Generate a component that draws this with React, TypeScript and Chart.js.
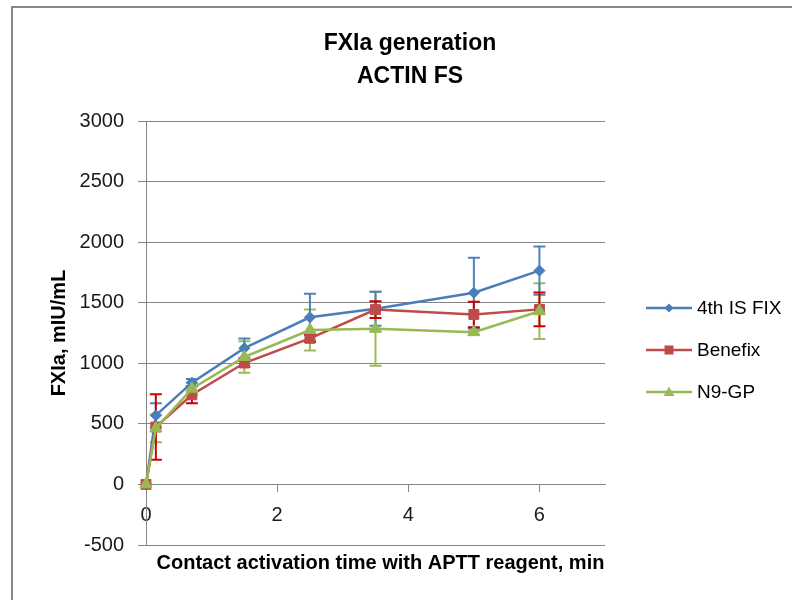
import React, { useEffect, useRef } from 'react';
import { Chart, registerables } from 'chart.js';

Chart.register(...registerables);

// ---- data ----
const timeMin = [0, 0.15, 0.7, 1.5, 2.5, 3.5, 5, 6];
const seriesNames = ['4th IS FIX', 'Benefix', 'N9-GP'];
const fixValues = [0, 570, 840, 1125, 1380, 1450, 1582, 1765];
const fixErr = [0, 100, 30, 80, 195, 140, 290, 200];
const benefixValues = [0, 474, 740, 1002, 1206, 1443, 1403, 1445];
const benefixErr = [0, 270, 70, 30, 30, 70, 105, 140];
const n9gpValues = [0, 463, 790, 1052, 1275, 1285, 1257, 1430];
const n9gpErr = [0, 115, 50, 130, 170, 305, 20, 230];
const xTickValues = [0, 2, 4, 6];
const yTickValues = [-500, 0, 500, 1000, 1500, 2000, 2500, 3000];
const titleLines = ['FXIa generation', 'ACTIN FS'];
const xTitle = 'Contact activation time with APTT reagent, min';
const yTitle = 'FXIa, mIU/mL';

const FONT = "'Liberation Sans', 'DejaVu Sans', sans-serif";
const lineColors = ['#4A7EBB', '#BE4B48', '#98B954'];
const errColors = ['#4F81BD', '#CC0000', '#9BBB59'];
const pointStyles = ['rectRot', 'rect', 'triangle'];
const pointRadii = [5.5, 7, 7];
const values = [fixValues, benefixValues, n9gpValues];
const errors = [fixErr, benefixErr, n9gpErr];

export default function App() {
  const ref = useRef<HTMLCanvasElement | null>(null);

  useEffect(() => {
    const canvas = ref.current;
    if (!canvas) return;

    const framePlugin = {
      id: 'frame',
      beforeDraw(chart: any) {
        const ctx = chart.ctx;
        ctx.save();
        ctx.fillStyle = '#ffffff';
        ctx.fillRect(0, 0, chart.width, chart.height);
        ctx.strokeStyle = '#888888';
        ctx.lineWidth = 2;
        ctx.beginPath();
        ctx.moveTo(12, chart.height);
        ctx.lineTo(12, 7);
        ctx.lineTo(chart.width, 7);
        ctx.stroke();
        ctx.restore();
      },
    };

    const errorBarPlugin = {
      id: 'errorBars',
      beforeDatasetsDraw(chart: any) {
        const ctx = chart.ctx;
        const xs = chart.scales.x;
        const ys = chart.scales.y;
        const drawOrder = [2, 0, 1];
        ctx.save();
        for (const s of drawOrder) {
          ctx.strokeStyle = errColors[s];
          ctx.lineWidth = 2;
          values[s].forEach((v, i) => {
            const e = errors[s][i];
            if (!e) return;
            const px = xs.getPixelForValue(timeMin[i]);
            const pTop = ys.getPixelForValue(v + e);
            const pBot = ys.getPixelForValue(v - e);
            ctx.beginPath();
            ctx.moveTo(px, pTop);
            ctx.lineTo(px, pBot);
            ctx.moveTo(px - 6, pTop);
            ctx.lineTo(px + 6, pTop);
            ctx.moveTo(px - 6, pBot);
            ctx.lineTo(px + 6, pBot);
            ctx.stroke();
          });
        }
        ctx.restore();
      },
    };

    const textPlugin = {
      id: 'texts',
      afterDraw(chart: any) {
        const ctx = chart.ctx;
        const area = chart.chartArea;
        ctx.save();
        ctx.fillStyle = '#000000';
        ctx.textAlign = 'center';
        ctx.textBaseline = 'middle';
        ctx.font = `bold 23px ${FONT}`;
        ctx.fillText(titleLines[0], 410, 44);
        ctx.fillText(titleLines[1], 410, 77);
        ctx.font = `bold 20px ${FONT}`;
        ctx.fillText(xTitle, (area.left + area.right) / 2 + 5, 563);

        // legend
        const legendY = [308, 350, 392];
        seriesNames.forEach((name, s) => {
          const y = legendY[s];
          ctx.strokeStyle = lineColors[s];
          ctx.lineWidth = 2.5;
          ctx.beginPath();
          ctx.moveTo(646, y);
          ctx.lineTo(692, y);
          ctx.stroke();
          ctx.fillStyle = lineColors[s];
          const r = s === 0 ? 4.5 : 6;
          ctx.beginPath();
          if (s === 0) {
            ctx.moveTo(669, y - r);
            ctx.lineTo(669 + r, y);
            ctx.lineTo(669, y + r);
            ctx.lineTo(669 - r, y);
          } else if (s === 1) {
            ctx.rect(669 - 4.5, y - 4.5, 9, 9);
          } else {
            ctx.moveTo(669, y - 5.5);
            ctx.lineTo(669 + 5.5, y + 4);
            ctx.lineTo(669 - 5.5, y + 4);
          }
          ctx.closePath();
          ctx.fill();
          ctx.fillStyle = '#000000';
          ctx.textAlign = 'left';
          ctx.font = `19px ${FONT}`;
          ctx.fillText(name, 697, y + 1);
        });
        ctx.restore();
      },
    };

    const datasets = seriesNames.map((name, s) => ({
      label: name,
      data: timeMin.map((t, i) => ({ x: t, y: values[s][i] })),
      borderColor: lineColors[s],
      backgroundColor: lineColors[s],
      pointBackgroundColor: lineColors[s],
      pointBorderColor: lineColors[s],
      pointStyle: pointStyles[s],
      pointRadius: pointRadii[s],
      pointBorderWidth: 1,
      borderWidth: 2.5,
      tension: 0,
      fill: false,
      clip: false as any,
      order: 2 - s,
    }));

    const chart = new Chart(canvas, {
      type: 'line',
      data: { datasets },
      options: {
        responsive: false,
        animation: false,
        devicePixelRatio: 1,
        layout: { padding: { left: 0, top: 121, right: 187, bottom: 55 } },
        plugins: {
          legend: { display: false },
          title: { display: false },
          tooltip: { enabled: false },
        },
        scales: {
          x: {
            type: 'linear',
            position: { y: 0 } as any,
            min: 0,
            max: 7,
            afterBuildTicks: (scale: any) => {
              scale.ticks = xTickValues.map((v) => ({ value: v }));
            },
            afterFit: (scale: any) => {
              scale.height = 0;
            },
            grid: {
              drawOnChartArea: false,
              drawTicks: true,
              tickLength: 7,
              color: '#868686',
              lineWidth: 1,
            },
            border: { display: true, color: '#868686', width: 1 },
            ticks: {
              font: { family: FONT, size: 20 },
              color: '#1a1a1a',
              padding: 12,
              maxRotation: 0,
              autoSkip: false,
              callback: (v: any) => String(v),
            },
          },
          y: {
            type: 'linear',
            position: 'left',
            min: -500,
            max: 3000,
            afterBuildTicks: (scale: any) => {
              scale.ticks = yTickValues.map((v) => ({ value: v }));
            },
            afterFit: (scale: any) => {
              scale.width = 146;
            },
            grid: {
              drawOnChartArea: true,
              drawTicks: true,
              tickLength: 8,
              color: '#868686',
              lineWidth: 1,
            },
            border: { display: true, color: '#868686', width: 1 },
            ticks: {
              font: { family: FONT, size: 20 },
              color: '#1a1a1a',
              padding: 14,
              autoSkip: false,
              callback: (v: any) => String(v),
            },
            title: {
              display: true,
              text: yTitle,
              font: { family: FONT, size: 20, weight: 'bold' },
              color: '#000000',
              padding: { top: 47, bottom: 0 },
            },
          },
        },
      },
      plugins: [framePlugin, errorBarPlugin, textPlugin],
    });

    return () => chart.destroy();
  }, []);

  return (
    <div style={{ position: 'fixed', left: 0, top: 0, width: 792, height: 600, background: '#fff' }}>
      <canvas ref={ref} width={792} height={600} style={{ display: 'block', width: 792, height: 600 }} />
    </div>
  );
}
